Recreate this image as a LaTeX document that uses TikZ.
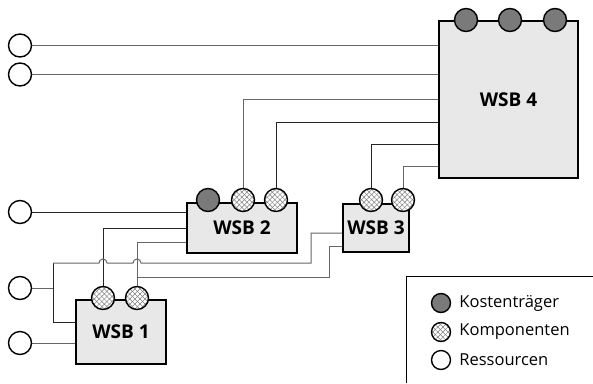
\documentclass[tikz,border=0pt]{standalone}
\usepackage{fontspec}
\setmainfont{Open Sans}
\usetikzlibrary{patterns.meta, backgrounds}
\begin{document}
\begin{tikzpicture}[x=1pt, y=-1pt,
    wsb/.style={draw, line width=2.4pt, fill=gray!18, inner sep=0pt,
        font=\bfseries\fontsize{19}{22}\selectfont},
    res/.style={draw, circle, line width=1.4pt, fill=white, minimum size=23pt, inner sep=0pt},
    kost/.style={res, fill=black!52},
    komp/.style={res, preaction={fill=white},
        preaction={pattern={Lines[angle=45, distance=3.6pt, line width=0.5pt]}, pattern color=gray},
        pattern={Lines[angle=-45, distance=3.6pt, line width=0.5pt]}, pattern color=gray},
    legtext/.style={anchor=west, inner sep=0pt, font=\fontsize{16.5}{19}\selectfont},
    wire/.style={line width=1pt, draw=gray!80!black},
    wiredark/.style={line width=1pt, draw=black!85}]
 \useasboundingbox (0,0) rectangle (593,383);
    % Boxes
 \node[wsb, minimum width=139, minimum height=157] (w4) at (508.5,99.5) {WSB 4};
 \node[wsb, minimum width=110, minimum height=50] (w2) at (242,228) {WSB 2};
 \node[wsb, minimum width=66, minimum height=48] (w3) at (376,228) {WSB 3};
 \node[wsb, minimum width=90, minimum height=64] (w1) at (121,332) {WSB 1};
    % Ressourcen
 \foreach \name/\y in {r1/45.5, r2/74.5, r3/212, r4/288, r5/343}
    \node[res] (\name) at (20,\y) {};
    % Kostentraeger and Komponenten
 \node[kost] (k1) at (466,20) {};
 \node[kost] (k2) at (510,20) {};
 \node[kost] (k3) at (555,20) {};
 \node[kost] (k4) at (208,200) {};
 \foreach \name/\x/\y in {c21/243/200, c22/276/200, c31/371/200, c32/403/200, c11/103/298, c12/137/298}
    \node[komp] (\name) at (\x,\y) {};
    % Wires
 \begin{scope}[on background layer]
 \draw[wire] (r1) -- (r1 -| w4.west);
 \draw[wire] (r2) -- (r2 -| w4.west);
 \draw[wire] (c21) |- (w4.west |- 0,99);
 \draw[wiredark] (c22) |- (w4.west |- 0,122);
 \draw[wiredark] (c31) |- (w4.west |- 0,144);
 \draw[wire] (c32) |- (w4.west |- 0,166);
 \draw[wiredark] (r3) -- (r3 -| w2.west);
 \draw[wiredark] (c11) |- (w2.west |- 0,228);
 \draw[wire] (c12) |- (w2.west |- 0,242);
 \draw[wire] (c12 |- 0,277) -| (329,246) -- (w3.west |- 0,246);
 \draw[wire] (r4) -- (53,288);
 \draw[wiredark] (53,263) -- (53,322) -- (w1.west |- 0,322);
 \draw[wire] (53,263) -- (99,263) arc[start angle=180, end angle=360, radius=4]
    -- (133,263) arc[start angle=180, end angle=360, radius=4]
    -- (311,263) |- (w3.west |- 0,233);
 \draw[wire] (r5) -- (r5 -| w1.west);
 \end{scope}
    % Legend
 \draw[line width=0.8pt] (406,383) -- (406,276) -- (593,276);
 \node[kost, minimum size=19pt] (lk) at (441,303) {};
 \node[komp, minimum size=19pt] (lc) at (441,332) {};
 \node[res, minimum size=19pt] (lr) at (441,360) {};
 \node[legtext] at ([xshift=8pt]lk.east) {Kostenträger};
 \node[legtext] at ([xshift=8pt]lc.east) {Komponenten};
 \node[legtext] at ([xshift=8pt]lr.east) {Ressourcen};
\end{tikzpicture}
\end{document}
